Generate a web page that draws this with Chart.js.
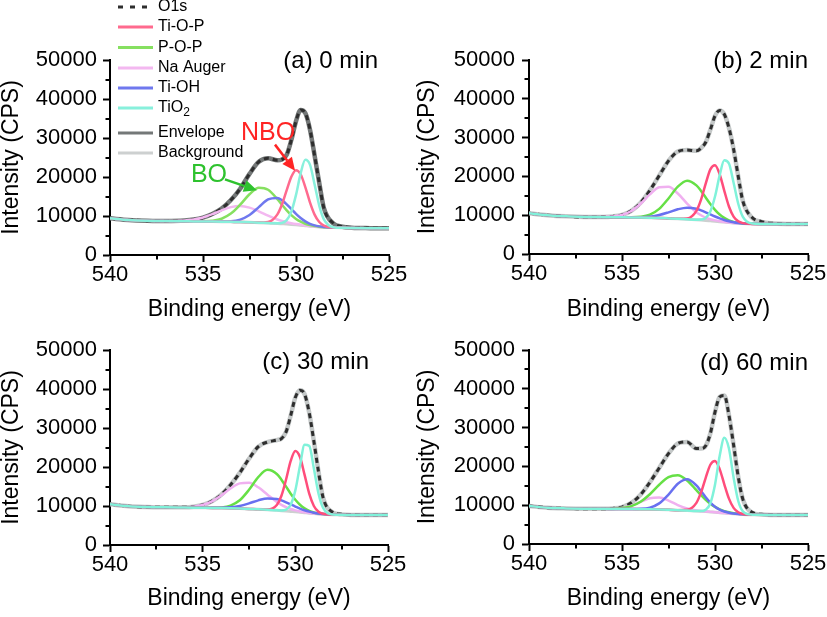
<!DOCTYPE html>
<html><head><meta charset="utf-8">
<script src="https://cdn.jsdelivr.net/npm/chart.js@4.4.1/dist/chart.umd.min.js"></script>
<style>
html,body{margin:0;padding:0;background:#fff;}
#wrap{position:relative;width:827px;height:617px;overflow:hidden;background:#fff;}
#wrap canvas{position:absolute;left:0;top:0;}
</style></head><body>
<div id="wrap">
<canvas id="cA" width="827" height="617"></canvas>
<canvas id="cB" width="827" height="617"></canvas>
<canvas id="cC" width="827" height="617"></canvas>
<canvas id="cD" width="827" height="617"></canvas>
</div>
<script>
// ---------------- DATA ----------------
const energy = [540, 539, 538, 537, 536, 535.5, 535, 534.5, 534, 533.5, 533, 532.5, 532, 531.5, 531, 530.75, 530.5, 530.25, 530, 529.75, 529.5, 529.25, 529, 528.75, 528.5, 528, 527.5, 527, 526, 525];

const seriesLabels = ['O1s', 'Ti-O-P', 'P-O-P', 'Na Auger', 'Ti-OH', 'TiO2', 'Envelope', 'Background'];
const panelTitles = ['(a) 0 min', '(b) 2 min', '(c) 30 min', '(d) 60 min'];
const xTickValues = [525, 530, 535, 540];
const yTickValues = [0, 10000, 20000, 30000, 40000, 50000];
const xMinorTicks = [527.5, 532.5, 537.5];
const yMinorTicks = [5000, 15000, 25000, 35000, 45000];

// (a) 0 min
const o1sA  = [9400, 9000, 8780, 8700, 8820, 9080, 9600, 10500, 11900, 14100, 17000, 20800, 23900, 24800, 24300, 24500, 25700, 29500, 34300, 37200, 36400, 32200, 25500, 18500, 12000, 8200, 7300, 7050, 6900, 6850];
const tiopA = [9400, 9000, 8800, 8700, 8650, 8620, 8600, 8580, 8550, 8500, 8450, 8380, 8315, 8480, 10430, 13020, 16630, 20070, 21760, 20710, 17420, 13510, 10360, 8450, 7540, 7045, 6960, 6920, 6880, 6850];
const popA  = [9400, 9000, 8800, 8700, 8650, 8630, 8645, 8790, 9300, 10610, 12890, 15580, 17260, 16740, 14320, 12840, 11440, 10220, 9240, 8530, 8020, 7655, 7415, 7255, 7145, 7020, 6960, 6920, 6880, 6850];
const naA   = [9400, 9000, 8800, 8715, 8830, 9090, 9620, 10460, 11460, 12270, 12560, 12150, 11210, 10080, 9100, 8720, 8410, 8150, 7930, 7745, 7580, 7430, 7305, 7210, 7125, 7020, 6960, 6920, 6880, 6850];
const tiohA = [9400, 9000, 8800, 8700, 8650, 8620, 8600, 8585, 8575, 8645, 9080, 10250, 12270, 14240, 14630, 14010, 13000, 11780, 10560, 9480, 8610, 8000, 7595, 7340, 7180, 7030, 6960, 6920, 6880, 6850];
const tio2A = [9400, 9000, 8800, 8700, 8650, 8620, 8600, 8580, 8550, 8500, 8450, 8380, 8300, 8200, 8120, 8245, 8950, 11120, 15410, 20930, 24410, 23180, 18110, 12660, 9140, 7130, 6960, 6920, 6880, 6850];
const envA  = [9400, 9000, 8800, 8710, 8830, 9090, 9600, 10500, 11900, 14100, 17000, 20800, 23900, 24800, 24300, 24500, 25700, 29500, 34300, 37200, 36400, 32200, 25500, 18500, 12000, 8100, 7250, 7000, 6890, 6850];
const bgA   = [9400, 9000, 8800, 8700, 8650, 8620, 8600, 8580, 8550, 8500, 8450, 8380, 8300, 8200, 8080, 8010, 7940, 7850, 7750, 7640, 7520, 7400, 7290, 7200, 7120, 7020, 6960, 6920, 6880, 6850];

// (b) 2 min
const o1sB  = [10490, 10000, 9680, 9550, 9550, 9680, 10080, 11130, 13200, 16400, 20200, 24000, 26400, 26800, 26600, 27300, 28800, 32000, 35600, 37000, 36000, 32500, 27000, 20000, 13600, 9400, 8350, 7950, 7800, 7730];
const tiopB = [10490, 10000, 9700, 9550, 9500, 9480, 9450, 9420, 9380, 9330, 9270, 9180, 9090, 9160, 11110, 14020, 18120, 21800, 22870, 20560, 16290, 12250, 9650, 8420, 7955, 7760, 7730, 7720, 7720, 7730];
const popB  = [10490, 10000, 9700, 9550, 9500, 9480, 9455, 9460, 9590, 10140, 11620, 14320, 17350, 18900, 17690, 16260, 14570, 12880, 11380, 10170, 9300, 8690, 8290, 8040, 7890, 7770, 7730, 7720, 7720, 7730];
const naB   = [10490, 10000, 9700, 9550, 9535, 9645, 10040, 11070, 12960, 15370, 17220, 17330, 15590, 13010, 10780, 9980, 9390, 8965, 8665, 8450, 8270, 8120, 8000, 7900, 7830, 7760, 7730, 7720, 7720, 7730];
const tiohB = [10490, 10000, 9700, 9550, 9500, 9480, 9455, 9440, 9470, 9630, 10040, 10730, 11520, 11940, 11650, 11250, 10750, 10190, 9660, 9175, 8765, 8430, 8180, 8000, 7880, 7770, 7730, 7720, 7720, 7730];
const tio2B = [10490, 10000, 9700, 9550, 9500, 9480, 9450, 9420, 9380, 9330, 9270, 9180, 9080, 8960, 8840, 8865, 9315, 10980, 14820, 20270, 24160, 23320, 18360, 12950, 9560, 7835, 7730, 7720, 7720, 7730];
const envB  = [10490, 10000, 9700, 9550, 9550, 9680, 10080, 11130, 13200, 16400, 20200, 24000, 26400, 26800, 26600, 27300, 28800, 32000, 35600, 37000, 36000, 32500, 27000, 20000, 13600, 9300, 8300, 7900, 7750, 7730];
const bgB   = [10490, 10000, 9700, 9550, 9500, 9480, 9450, 9420, 9380, 9330, 9270, 9180, 9080, 8960, 8820, 8740, 8650, 8550, 8450, 8340, 8220, 8100, 7990, 7900, 7830, 7760, 7730, 7720, 7720, 7730];

// (c) 30 min
const o1sC  = [10430, 9950, 9730, 9660, 9680, 9830, 10250, 11240, 12900, 15400, 18500, 22100, 25200, 26400, 26900, 27300, 29000, 33200, 37800, 39700, 38700, 33900, 26600, 18800, 12100, 8450, 7900, 7760, 7700, 7690];
const tiopC = [10430, 9950, 9750, 9660, 9600, 9570, 9540, 9510, 9470, 9420, 9350, 9260, 9150, 9100, 10250, 12630, 16800, 21560, 24110, 22560, 17970, 13170, 10010, 8530, 7995, 7780, 7730, 7700, 7690, 7690];
const popC  = [10430, 9950, 9750, 9660, 9600, 9570, 9545, 9540, 9630, 10100, 11460, 14150, 17400, 19270, 18220, 16750, 14970, 13160, 11590, 10330, 9390, 8750, 8340, 8085, 7930, 7790, 7730, 7700, 7690, 7690];
const naC   = [10430, 9950, 9750, 9665, 9670, 9815, 10240, 11200, 12690, 14480, 15800, 15960, 14800, 12910, 11060, 10300, 9710, 9235, 8885, 8605, 8390, 8215, 8075, 7960, 7875, 7780, 7730, 7700, 7690, 7690];
const tiohC = [10430, 9950, 9750, 9660, 9600, 9570, 9545, 9525, 9540, 9670, 10020, 10670, 11450, 11950, 11780, 11430, 10950, 10400, 9860, 9345, 8905, 8550, 8280, 8075, 7935, 7795, 7730, 7700, 7690, 7690];
const tio2C = [10430, 9950, 9750, 9660, 9600, 9570, 9540, 9510, 9470, 9420, 9350, 9260, 9150, 9030, 8895, 8860, 9085, 10330, 14000, 20270, 25680, 25430, 19640, 13210, 9490, 7830, 7730, 7700, 7690, 7690];
const envC  = [10430, 9950, 9750, 9660, 9680, 9830, 10250, 11240, 12900, 15400, 18500, 22100, 25200, 26400, 26900, 27300, 29000, 33200, 37800, 39700, 38700, 33900, 26600, 18800, 12100, 8400, 7850, 7720, 7690, 7690];
const bgC   = [10430, 9950, 9750, 9660, 9600, 9570, 9540, 9510, 9470, 9420, 9350, 9260, 9150, 9030, 8890, 8810, 8720, 8620, 8520, 8400, 8280, 8160, 8050, 7950, 7870, 7780, 7730, 7700, 7690, 7690];

// (d) 60 min
const o1sD  = [9790, 9350, 9160, 9100, 9090, 9170, 9520, 10600, 12700, 15900, 19600, 23300, 25900, 26300, 24600, 24600, 25300, 28500, 34000, 37900, 38300, 33200, 25500, 17300, 11500, 8150, 7650, 7530, 7490, 7470];
const tiopD = [9790, 9350, 9180, 9100, 9060, 9040, 9020, 9000, 8970, 8930, 8880, 8810, 8730, 8815, 10610, 13290, 17060, 20430, 21420, 19300, 15390, 11690, 9310, 8180, 7745, 7555, 7510, 7490, 7480, 7470];
const popD  = [9790, 9350, 9180, 9100, 9075, 9105, 9265, 9770, 10890, 12810, 15260, 17240, 17720, 16370, 13870, 12580, 11380, 10360, 9550, 8920, 8480, 8160, 7925, 7775, 7665, 7555, 7510, 7490, 7480, 7470];
const naD   = [9790, 9350, 9180, 9100, 9070, 9110, 9315, 9880, 10840, 11770, 11960, 11190, 10040, 9145, 8655, 8505, 8390, 8280, 8185, 8080, 7980, 7880, 7780, 7700, 7630, 7550, 7510, 7490, 7480, 7470];
const tiohD = [9790, 9350, 9180, 9100, 9060, 9040, 9020, 9010, 9055, 9370, 10470, 12750, 15510, 16670, 15090, 13620, 12070, 10690, 9630, 8860, 8365, 8055, 7850, 7725, 7640, 7550, 7510, 7490, 7480, 7470];
const tio2D = [9790, 9350, 9180, 9100, 9060, 9040, 9020, 9000, 8970, 8930, 8880, 8810, 8730, 8630, 8515, 8500, 8820, 10510, 15300, 22650, 27370, 24610, 17160, 11090, 8430, 7560, 7510, 7490, 7480, 7470];
const envD  = [9790, 9350, 9180, 9100, 9090, 9170, 9520, 10600, 12700, 15900, 19600, 23300, 25900, 26300, 24600, 24600, 25300, 28500, 34000, 37900, 38300, 33200, 25500, 17300, 11500, 8100, 7600, 7500, 7480, 7470];
const bgD   = [9790, 9350, 9180, 9100, 9060, 9040, 9020, 9000, 8970, 8930, 8880, 8810, 8730, 8630, 8510, 8440, 8360, 8270, 8180, 8080, 7980, 7880, 7780, 7700, 7630, 7550, 7510, 7490, 7480, 7470];

// ---------------- STYLE / LAYOUT ----------------
const FONT = "'Liberation Sans', Arial, Helvetica, sans-serif";
const palA = { o1s:'#2e2e2e', tiop:'#ff6a8e', pop:'#86e060', na:'#f3b8f0', tioh:'#6f78ee', tio2:'#88f0dc', env:'#747878', bg:'#cdd0d0' };
const palB = { o1s:'#2e2e2e', tiop:'#ff4d7b', pop:'#66e046', na:'#f0b0f0', tioh:'#6870f0', tio2:'#80f2da', env:'#c4c8c8', bg:'#cdd0d0' };

const panels = [
  { id:'cA', title:panelTitles[0], pal:palA,
    box:{left:0, top:60, right:438, bottom:287, yW:110, xH:75, yTitlePad:0, xTitlePad:8.5, tickPad:6},
    lab:{dx:-11, dy:1},
    d:{o1s:o1sA, tiop:tiopA, pop:popA, na:naA, tioh:tiohA, tio2:tio2A, env:envA, bg:bgA}, legend:true, notes:true },
  { id:'cB', title:panelTitles[1], pal:palB,
    box:{left:413, top:60, right:19, bottom:287, yW:116, xH:76, yTitlePad:3, xTitlePad:8.5, tickPad:7},
    lab:{dx:0, dy:1},
    d:{o1s:o1sB, tiop:tiopB, pop:popB, na:naB, tioh:tiohB, tio2:tio2B, env:envB, bg:bgB} },
  { id:'cC', title:panelTitles[2], pal:palB,
    box:{left:0, top:350, right:439, bottom:0, yW:110, xH:72, yTitlePad:0, xTitlePad:6.5, tickPad:6},
    lab:{dx:-19, dy:12},
    d:{o1s:o1sC, tiop:tiopC, pop:popC, na:naC, tioh:tiohC, tio2:tio2C, env:envC, bg:bgC} },
  { id:'cD', title:panelTitles[3], pal:palB,
    box:{left:413, top:350, right:19, bottom:0, yW:116, xH:73, yTitlePad:3, xTitlePad:6.5, tickPad:7},
    lab:{dx:0, dy:13},
    d:{o1s:o1sD, tiop:tiopD, pop:popD, na:naD, tioh:tiohD, tio2:tio2D, env:envD, bg:bgD} }
];

const legendCfg = { x0:118, x1:153, tx:158, rows:[7, 27, 47.5, 68, 88, 108, 133, 153], font:16 };
const notesCfg = [
  { text:'NBO', color:'#ff2424', at:[531.5, 31300], from:[531.13, 28300], to:[530.05, 21600] },
  { text:'BO',  color:'#2ec22e', at:[534.68, 20510], from:[533.82, 19400], to:[532.1, 16600] }
];

function ds(label, arr, color, width, order, dash) {
  return {
    label, data: energy.map((e, i) => ({ x: e, y: arr[i] })),
    borderColor: color, backgroundColor: color, borderWidth: width,
    borderDash: dash || [], pointRadius: 0, pointHoverRadius: 0, fill: false,
    cubicInterpolationMode: 'monotone', order, borderJoinStyle: 'round'
  };
}

function drawArrow(ctx, x0, y0, x1, y1, color) {
  const ang = Math.atan2(y1 - y0, x1 - x0);
  const hl = 13, hw = 6;
  const bx = x1 - hl * Math.cos(ang), by = y1 - hl * Math.sin(ang);
  ctx.strokeStyle = color; ctx.fillStyle = color; ctx.lineWidth = 2.5;
  ctx.beginPath(); ctx.moveTo(x0, y0); ctx.lineTo(bx, by); ctx.stroke();
  ctx.beginPath();
  ctx.moveTo(x1, y1);
  ctx.lineTo(bx + hw * Math.sin(ang), by - hw * Math.cos(ang));
  ctx.lineTo(bx - hw * Math.sin(ang), by + hw * Math.cos(ang));
  ctx.closePath(); ctx.fill();
}

const extras = {
  id: 'extras',
  afterDraw(chart, args, o) {
    const ctx = chart.ctx, xs = chart.scales.x, ys = chart.scales.y, ca = chart.chartArea;
    ctx.save();
    // minor ticks
    ctx.strokeStyle = '#000'; ctx.lineWidth = 2;
    xMinorTicks.forEach(v => {
      const px = Math.round(xs.getPixelForValue(v));
      ctx.beginPath(); ctx.moveTo(px, ca.bottom); ctx.lineTo(px, ca.bottom + 4.5); ctx.stroke();
    });
    yMinorTicks.forEach(v => {
      const py = Math.round(ys.getPixelForValue(v));
      ctx.beginPath(); ctx.moveTo(ca.left, py); ctx.lineTo(ca.left - 4.5, py); ctx.stroke();
    });
    // panel label
    ctx.fillStyle = '#000';
    ctx.font = '24px ' + FONT;
    ctx.textAlign = 'right'; ctx.textBaseline = 'middle';
    ctx.fillText(o.title, ca.right + o.lab.dx, ca.top + o.lab.dy);
    // annotations
    if (o.notes) {
      notesCfg.forEach(n => {
        ctx.font = '25px ' + FONT; ctx.fillStyle = n.color;
        ctx.textAlign = 'center'; ctx.textBaseline = 'middle';
        ctx.fillText(n.text, xs.getPixelForValue(n.at[0]), ys.getPixelForValue(n.at[1]));
        drawArrow(ctx, xs.getPixelForValue(n.from[0]), ys.getPixelForValue(n.from[1]),
                  xs.getPixelForValue(n.to[0]), ys.getPixelForValue(n.to[1]), n.color);
      });
    }
    // legend
    if (o.legend) {
      const dss = chart.data.datasets;
      seriesLabels.forEach((lab, i) => {
        const d = dss.find(s => s.label === lab);
        const y = legendCfg.rows[i];
        ctx.strokeStyle = d.borderColor;
        ctx.lineWidth = 3;
        ctx.setLineDash(lab === 'O1s' ? [5, 7] : []);
        ctx.beginPath(); ctx.moveTo(legendCfg.x0, y); ctx.lineTo(legendCfg.x1, y); ctx.stroke();
        ctx.setLineDash([]);
        ctx.fillStyle = '#000'; ctx.textAlign = 'left'; ctx.textBaseline = 'middle';
        ctx.font = legendCfg.font + 'px ' + FONT;
        if (lab === 'TiO2') {
          ctx.fillText('TiO', legendCfg.tx, y);
          const w = ctx.measureText('TiO').width;
          ctx.font = '12px ' + FONT;
          ctx.fillText('2', legendCfg.tx + w, y + 5);
        } else {
          ctx.fillText(lab, legendCfg.tx, y);
        }
      });
    }
    ctx.restore();
  }
};

panels.forEach(p => {
  const b = p.box, P = p.pal, D = p.d;
  const datasets = [
    ds('Background', D.bg, P.bg, 3, 9),
    ds('Envelope', D.env, P.env, 4.5, 8),
    ds('O1s', D.o1s, P.o1s, 3, 7, [5, 4]),
    ds('Na Auger', D.na, P.na, 2.5, 6),
    ds('P-O-P', D.pop, P.pop, 2.5, 5),
    ds('Ti-OH', D.tioh, P.tioh, 2.5, 4),
    ds('Ti-O-P', D.tiop, P.tiop, 2.5, 3),
    ds('TiO2', D.tio2, P.tio2, 2.5, 2)
  ];
  new Chart(document.getElementById(p.id), {
    type: 'line',
    data: { datasets },
    plugins: [extras],
    options: {
      responsive: false, animation: false, devicePixelRatio: 1,
      events: [],
      layout: { padding: { left: b.left, top: b.top, right: b.right, bottom: b.bottom } },
      plugins: {
        legend: { display: false }, tooltip: { enabled: false },
        extras: { title: p.title, lab: p.lab, legend: !!p.legend, notes: !!p.notes }
      },
      scales: {
        x: {
          type: 'linear', min: 525, max: 540, reverse: true,
          afterFit: s => { s.height = b.xH; },
          afterBuildTicks: s => { s.ticks = xTickValues.map(v => ({ value: v })); },
          border: { display: true, color: '#000', width: 2 },
          grid: { display: true, drawOnChartArea: false, drawTicks: true, tickLength: 7, tickWidth: 2, tickColor: '#000', color: '#000' },
          ticks: { color: '#000', font: { family: FONT, size: 22 }, padding: 0, maxRotation: 0, autoSkip: false, callback: v => String(v) },
          title: { display: true, text: 'Binding energy (eV)', color: '#000', font: { family: FONT, size: 23, lineHeight: 1 }, padding: { top: 0, bottom: b.xTitlePad } }
        },
        y: {
          type: 'linear', min: 0, max: 50000,
          afterFit: s => { s.width = b.yW; },
          afterBuildTicks: s => { s.ticks = yTickValues.map(v => ({ value: v })); },
          border: { display: true, color: '#000', width: 2 },
          grid: { display: true, drawOnChartArea: false, drawTicks: true, tickLength: 7, tickWidth: 2, tickColor: '#000', color: '#000' },
          ticks: { color: '#000', font: { family: FONT, size: 22 }, padding: b.tickPad, autoSkip: false, callback: v => String(v) },
          title: { display: true, text: 'Intensity (CPS)', color: '#000', font: { family: FONT, size: 23, lineHeight: 1 }, padding: { top: b.yTitlePad, bottom: 0 } }
        }
      }
    }
  });
});
</script>
</body></html>
